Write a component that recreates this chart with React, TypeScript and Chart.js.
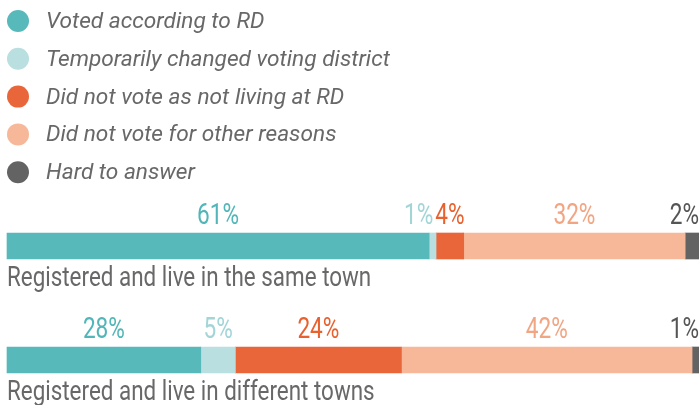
import React, { useEffect, useRef } from 'react';
import { Chart, registerables } from 'chart.js';

Chart.register(...registerables);

// ---- data ----
const categories = ['Registered and live in the same town', 'Registered and live in different towns'];
const seriesNames = [
  'Voted according to RD',
  'Temporarily changed voting district',
  'Did not vote as not living at RD',
  'Did not vote for other reasons',
  'Hard to answer',
];
const votedAccordingToRD = [61, 28];
const temporarilyChanged = [1, 5];
const notLivingAtRD = [4, 24];
const otherReasons = [32, 42];
const hardToAnswer = [2, 1];

// ---- style ----
const seriesColors = ['#58b9bb', '#b9dfe0', '#e9663a', '#f6b899', '#636363'];
const labelColors = ['#52b6b8', '#a3d5d7', '#e8612f', '#f2a583', '#555555'];
const TEXT_GRAY = '#686868';
const FONT = 'Roboto, "Liberation Sans", sans-serif';

function drawScaled(ctx: CanvasRenderingContext2D, text: string, left: number, y: number, sx: number) {
  ctx.save();
  ctx.translate(left, y);
  ctx.scale(sx, 1);
  ctx.textAlign = 'left';
  ctx.textBaseline = 'alphabetic';
  ctx.fillText(text, 0, 0);
  ctx.restore();
}

const legendPlugin = {
  id: 'customLegend',
  afterDraw(chart: any) {
    const ctx: CanvasRenderingContext2D = chart.ctx;
    const sx = 1.03;
    ctx.save();
    ctx.font = `italic 22px ${FONT}`;
    chart.data.datasets.forEach((ds: any, k: number) => {
      const cy = 21 + k * 37.8;
      ctx.beginPath();
      ctx.arc(18, cy, 11, 0, Math.PI * 2);
      ctx.fillStyle = ds.backgroundColor;
      ctx.fill();
      ctx.fillStyle = TEXT_GRAY;
      drawScaled(ctx, ds.label, 46, cy + 7, sx);
    });
    ctx.restore();
  },
};

const barLabelPlugin = {
  id: 'barLabels',
  afterDatasetsDraw(chart: any) {
    const ctx: CanvasRenderingContext2D = chart.ctx;
    const area = chart.chartArea;
    const sx = 0.78;
    const gap = 2;
    ctx.save();
    chart.data.labels.forEach((cat: string, i: number) => {
      // percentage labels
      ctx.font = `29px ${FONT}`;
      const items: any[] = [];
      let barTop = 0;
      let barBottom = 0;
      chart.data.datasets.forEach((ds: any, k: number) => {
        const el = chart.getDatasetMeta(k).data[i];
        const text = `${ds.data[i]}%`;
        const w = ctx.measureText(text).width * sx;
        const cx = (el.x + el.base) / 2;
        let left = cx - w / 2;
        if (left + w > area.right) left = area.right - w;
        if (left < area.left) left = area.left;
        barTop = el.y - el.height / 2;
        barBottom = el.y + el.height / 2;
        items.push({ text, w, left, color: labelColors[k] });
      });
      for (let k = items.length - 2; k >= 0; k--) {
        const maxRight = items[k + 1].left - gap;
        if (items[k].left + items[k].w > maxRight) items[k].left = maxRight - items[k].w;
      }
      items.forEach((it) => {
        ctx.fillStyle = it.color;
        drawScaled(ctx, it.text, it.left, barTop - 9, sx);
      });
      // category label
      ctx.font = `27px ${FONT}`;
      ctx.fillStyle = TEXT_GRAY;
      drawScaled(ctx, cat, area.left, barBottom + 27, 0.83);
    });
    ctx.restore();
  },
};

export default function App() {
  const canvasRef = useRef<HTMLCanvasElement>(null);

  useEffect(() => {
    document.body.style.margin = '0';
    const seriesValues = [votedAccordingToRD, temporarilyChanged, notLivingAtRD, otherReasons, hardToAnswer];
    const chart = new Chart(canvasRef.current as HTMLCanvasElement, {
      type: 'bar',
      data: {
        labels: categories,
        datasets: seriesValues.map((vals, k) => ({
          label: seriesNames[k],
          data: vals,
          backgroundColor: seriesColors[k],
          borderWidth: 0,
          barThickness: 26,
          clip: false as any,
        })),
      },
      options: {
        indexAxis: 'y',
        animation: false,
        responsive: true,
        maintainAspectRatio: false,
        layout: { padding: { left: 7, right: 0, top: 246, bottom: 45 } },
        scales: {
          x: { stacked: true, min: 0, max: 100, display: false },
          y: { stacked: true, display: false, offset: false },
        },
        plugins: {
          legend: { display: false },
          tooltip: { enabled: false },
        },
      },
      plugins: [legendPlugin, barLabelPlugin],
    });
    return () => chart.destroy();
  }, []);

  return (
    <div style={{ position: 'relative', width: 699, height: 405 }}>
      <canvas ref={canvasRef} />
    </div>
  );
}
